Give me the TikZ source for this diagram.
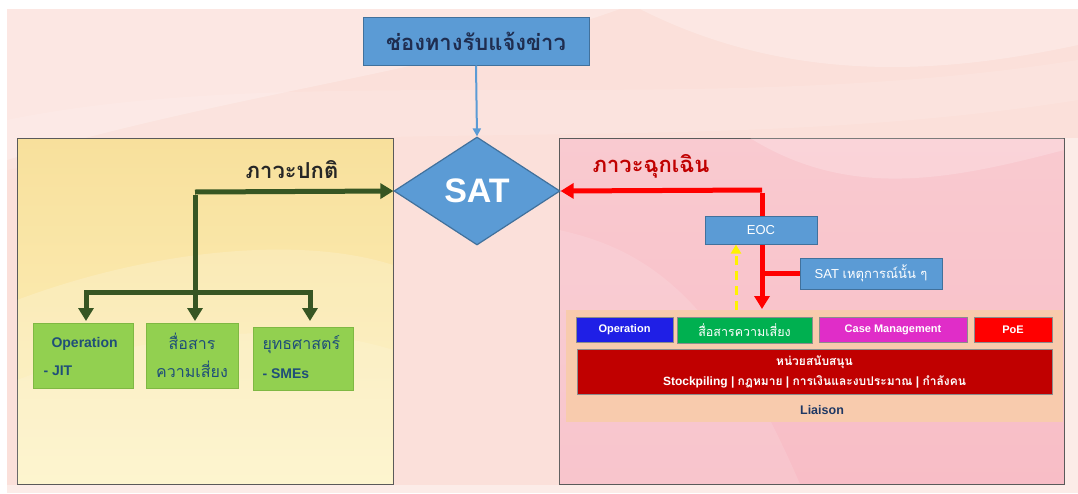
\documentclass[tikz,border=0pt]{standalone}
\usepackage{fontspec}
\setmainfont{Liberation Sans}
\newfontfamily\thai[Script=Thai]{Loma}
\usetikzlibrary{shapes.geometric,arrows.meta}
\definecolor{bgpink}{HTML}{FBE0DA}
\definecolor{boxblue}{HTML}{5B9BD5}
\definecolor{boxblueedge}{HTML}{41719C}
\definecolor{navy}{HTML}{1F2D4F}
\definecolor{gfill}{HTML}{92D050}
\definecolor{gedge}{HTML}{7FB843}
\definecolor{gtext}{HTML}{1F4E79}
\definecolor{darkgreen}{HTML}{375623}
\definecolor{emred}{HTML}{FF0000}
\definecolor{emtitle}{HTML}{C00000}
\definecolor{peach}{HTML}{F8CBAD}
\definecolor{opblue}{HTML}{1F1FE6}
\definecolor{comgreen}{HTML}{00B050}
\definecolor{casemag}{HTML}{E02DC8}
\definecolor{supred}{HTML}{C00000}
\definecolor{liaisontext}{HTML}{1F3864}
\definecolor{paneledge}{HTML}{5A5A5A}
\definecolor{ltop}{HTML}{F8E09C}
\definecolor{lbot}{HTML}{FDF2BE}
\definecolor{rtop}{HTML}{F9CAD0}
\definecolor{rbot}{HTML}{F8BDC6}
\begin{document}
\begin{tikzpicture}[x=1pt,y=-1pt,
  bluebox/.style={draw=boxblueedge, fill=boxblue, line width=1pt, inner sep=0pt},
  greenbox/.style={draw=gedge, fill=gfill, line width=0.6pt, inner sep=0pt},
  rowbox/.style={draw=black!45, line width=0.6pt, inner sep=0pt, text=white,
    font=\bfseries\fontsize{11}{13}\selectfont},
  gline/.style={draw=darkgreen, line width=5pt},
  garrow/.style={gline, -{Triangle[width=15pt,length=13pt]}},
  rline/.style={draw=emred, line width=5pt},
  rarrow/.style={rline, -{Triangle[width=15pt,length=13pt]}},
  ydash/.style={draw=yellow, line width=3pt, dash pattern=on 9pt off 6pt,
    -{Triangle[width=10pt,length=9pt]}},
  barrow/.style={draw=boxblue, line width=2pt, -{Triangle[width=8pt,length=8pt]}}
]
\useasboundingbox (0,0) rectangle (1078,493);
% background
\fill[white] (0,0) rectangle (1078,493);
\fill[bgpink] (7,9) rectangle (1078,493);
\fill[white, opacity=0.25] (7,9) -- (620,9) .. controls (450,70) and (220,95) .. (7,160) -- cycle;
\fill[white, opacity=0.25] (640,9) .. controls (800,90) and (960,70) .. (1078,45) -- (1078,9) -- cycle;
\fill[white, opacity=0.12] (7,120) .. controls (300,60) and (700,120) .. (1078,60) -- (1078,100) .. controls (700,160) and (300,110) .. (7,170) -- cycle;
\fill[white, opacity=0.4] (1064,138) rectangle (1078,493);
\fill[white, opacity=0.4] (7,485) rectangle (1064,493);

% panels
\node[draw=paneledge, line width=1pt, top color=ltop, bottom color=lbot,
  minimum width=376pt, minimum height=346pt, anchor=north west, inner sep=0pt] (lp) at (17,138) {};
\begin{scope}
  \clip (17.5,138.5) rectangle (392.5,483.5);
  \fill[white, opacity=0.18] (17,300) .. controls (150,250) and (300,235) .. (393,265) -- (393,484) -- (17,484) -- cycle;
  \fill[white, opacity=0.12] (17,380) .. controls (150,330) and (300,320) .. (393,350) -- (393,484) -- (17,484) -- cycle;
\end{scope}
\node[draw=paneledge, line width=1pt, top color=rtop, bottom color=rbot,
  minimum width=505pt, minimum height=346pt, anchor=north west, inner sep=0pt] (rp) at (559,138) {};
\begin{scope}
  \clip (559.5,138.5) rectangle (1063.5,483.5);
  \fill[white, opacity=0.2] (750,138) .. controls (850,200) and (950,180) .. (1064,150) -- (1064,138) -- cycle;
  \fill[white, opacity=0.12] (559,230) .. controls (650,250) and (720,300) .. (800,484) -- (559,484) -- cycle;
\end{scope}

% liaison panel
\node[fill=peach, minimum width=497pt, minimum height=112pt, inner sep=0pt, anchor=north west] (liaison) at (566,310) {};

% top box and diamond
\node[bluebox, minimum width=226pt, minimum height=48pt, text=navy,
  font=\thai\bfseries\fontsize{22}{24}\selectfont] (news) at (476,41) {ช่องทางรับแจ้งข่าว};
\node[diamond, draw=boxblueedge, fill=boxblue, line width=1.2pt, inner sep=0pt,
  minimum width=166pt, minimum height=108pt, text=white,
  font=\bfseries\fontsize{34}{36}\selectfont] (sat) at (477,191) {SAT};
\draw[barrow] (news.south) -- (sat.north);

% headings
\node[text=black!85, font=\thai\bfseries\fontsize{22}{24}\selectfont] (normal) at (292,170) {ภาวะปกติ};
\node[text=emtitle, font=\thai\bfseries\fontsize{22}{24}\selectfont] (emerg) at (651,166) {ภาวะฉุกเฉิน};

% green boxes
\node[greenbox, minimum width=100pt, minimum height=65pt] (b1) at (83,355.5) {};
\node[text=gtext, align=left, font=\bfseries\fontsize{14}{28}\selectfont, anchor=west] (b1t) at (40,356) {\hspace*{8pt}Operation\\- JIT};
\node[greenbox, minimum width=92pt, minimum height=65pt, text=gtext, align=center,
  font=\thai\fontsize{16}{28}\selectfont] (b2) at (192,355.5) {สื่อสาร\\ความเสี่ยง};
\node[greenbox, minimum width=100pt, minimum height=63pt] (b3) at (303,358.5) {};
\node[text=gtext, align=left, font=\fontsize{14}{29}\selectfont, anchor=west] (b3t) at (259,357) {{\thai\fontsize{16}{29}\selectfont ยุทธศาสตร์}\\\textbf{- SMEs}};

% green connectors
\coordinate (gj) at (195,192);
\coordinate (gb) at (195,292);
\coordinate (gl) at (86,292);
\coordinate (gr) at (310,292);
\draw[garrow] (gj) -- (sat.west);
\draw[gline] ([yshift=-2.5pt]gj) -- (gb);
\draw[gline, line cap=rect] (gl) -- (gr);
\draw[garrow] (gl) -- (86,321);
\draw[garrow] (gb) -- (195,321);
\draw[garrow] (gr) -- (310,321);

% red connectors
\coordinate (rj) at (762,190);
\coordinate (rend) at (762,309);
\draw[rarrow] (rj) -- (sat.east);
\draw[rline] ([yshift=-2.5pt]rj) -- (762,290);
\draw[rarrow] (762,280) -- (rend);

% EOC and SAT event
\node[bluebox, minimum width=112pt, minimum height=28pt, text=white,
  font=\fontsize{13}{15}\selectfont] (eoc) at (761,230) {EOC};
\node[bluebox, minimum width=142pt, minimum height=31pt, text=white,
  font=\fontsize{13}{15}\selectfont] (satev) at (871,273.5) {SAT {\thai เหตุการณ์นั้น ๆ}};
\draw[rline] (762,273.5) -- (satev.west);
\draw[ydash] (736,310) -- (eoc.south -| 736,0);

% row boxes
\node[rowbox, fill=opblue, minimum width=97pt, minimum height=25pt] (op) at (624.5,329.5) {Operation};
\node[rowbox, fill=comgreen, minimum width=135pt, minimum height=26pt,
  font=\thai\fontsize{12.5}{14}\selectfont] (com) at (744.5,330) {สื่อสารความเสี่ยง};
\node[rowbox, fill=casemag, minimum width=148pt, minimum height=25pt] (case) at (893,329.5) {Case Management};
\node[rowbox, fill=emred, minimum width=78pt, minimum height=25pt] (poe) at (1013,329.5) {PoE};
\node[rowbox, fill=supred, minimum width=475pt, minimum height=45pt, align=center,
  font=\bfseries\fontsize{12}{20}\selectfont] (sup) at (814.5,371.5)
  {{\thai\bfseries หน่วยสนับสนุน}\\Stockpiling | {\thai\bfseries กฎหมาย} | {\thai\bfseries การเงินและงบประมาณ} | {\thai\bfseries กำลังคน}};
\node[text=liaisontext, font=\bfseries\fontsize{12.5}{14}\selectfont] (liaisont) at (822,410) {Liaison};
\end{tikzpicture}
\end{document}
